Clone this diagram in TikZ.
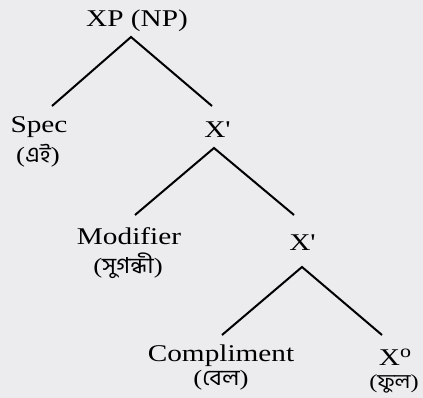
\documentclass[tikz,border=0pt]{standalone}
\usepackage{fontspec}
\setmainfont{Liberation Serif}[FakeStretch=1.22]
\newfontfamily\bnfont[Script=Bengali,FakeStretch=1.1]{Hind Siliguri}
\definecolor{bg}{RGB}{236,236,239}
\begin{document}
\begin{tikzpicture}[x=1pt,y=-1pt,
  lbl/.style={inner sep=0pt, anchor=base, font=\fontsize{24}{26}\selectfont},
  bn/.style={inner sep=0pt, anchor=center, font=\fontsize{22}{24}\selectfont},
  edge/.style={line width=2pt, line cap=butt}]
\fill[bg] (0,0) rectangle (423,398);
\useasboundingbox (0,0) rectangle (423,398);
% labels
\node[lbl] (xp) at (137,27) {XP (NP)};
\node[lbl] (spec) at (39,133) {Spec};
\node[bn] (specb) at (38,156) {({\bnfont এই})};
\node[lbl] (xbar1) at (217,138) {X\textquotesingle};
\node[lbl] (mod) at (129,244) {Modifier};
\node[bn] (modb) at (128,266) {({\bnfont সুগন্ধী})};
\node[lbl] (xbar2) at (302,251) {X\textquotesingle};
\node[lbl] (comp) at (221,361) {Compliment};
\node[bn] (compb) at (221,380) {({\bnfont বেল})};
\node[lbl] (xzero) at (395,365) {X\raisebox{7.5pt}{\fontsize{18}{20}\selectfont o}};
\node[bn, font=\fontsize{20}{22}\selectfont] (xzerob) at (394,384) {({\bnfont ফুল})};
% connector end points
\coordinate (a1) at (131,37);
\coordinate (l1) at (52,106);
\coordinate (r1) at (212,106);
\coordinate (a2) at (214,148);
\coordinate (l2) at (135,215);
\coordinate (r2) at (294,215);
\coordinate (a3) at (302,267);
\coordinate (l3) at (222,335);
\coordinate (r3) at (382,335);
\draw[edge] (l1) -- (a1) -- (r1);
\draw[edge] (l2) -- (a2) -- (r2);
\draw[edge] (l3) -- (a3) -- (r3);
\end{tikzpicture}
\end{document}
